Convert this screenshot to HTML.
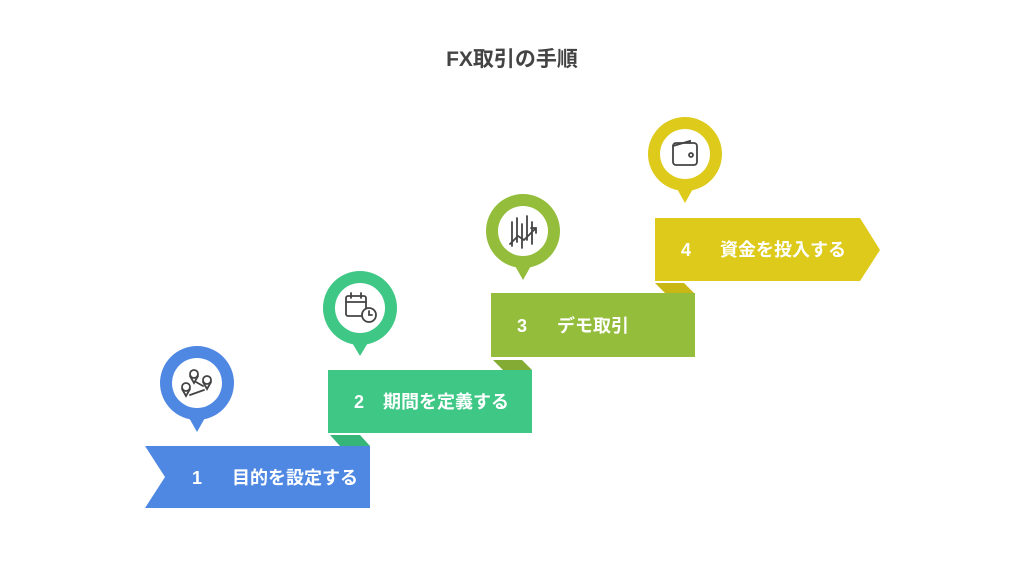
<!DOCTYPE html>
<html><head><meta charset="utf-8"><style>
body{margin:0;background:#fff;width:1024px;height:576px;overflow:hidden;font-family:"Liberation Sans","Noto Sans CJK JP",sans-serif}
</style></head><body>
<svg width="1024" height="576" viewBox="0 0 1024 576" xmlns="http://www.w3.org/2000/svg" font-family="Liberation Sans, Noto Sans CJK JP, sans-serif">
<text x="512" y="66" text-anchor="middle" font-size="21" font-weight="bold" fill="#444">FX取引の手順</text>
<!-- tabs -->
<polygon points="330,435 360,435 370,446 340,446" fill="#35b578"/>
<polygon points="493,360 522,360 532,370 503,370" fill="#84ab33"/>
<polygon points="655,283 684,283 694,293 665,293" fill="#c9b716"/>
<!-- boxes -->
<polygon points="145,446 370,446 370,508 145,508 165,477" fill="#4f88e3"/>
<rect x="328" y="370" width="204" height="63" fill="#3ec785"/>
<rect x="491" y="293" width="204" height="64" fill="#93bd3a"/>
<polygon points="655,218 860,218 880,250 860,281 655,281" fill="#ddca1a"/>
<g fill="#fff" font-weight="bold" font-size="18">
<text x="197" y="484" text-anchor="middle">1</text><text x="232" y="484">目的を設定する</text>
<text x="359" y="408" text-anchor="middle">2</text><text x="383" y="408">期間を定義する</text>
<text x="522" y="332" text-anchor="middle">3</text><text x="557" y="332">デモ取引</text>
<text x="686" y="256" text-anchor="middle">4</text><text x="720" y="256">資金を投入する</text>
</g>
<!-- pins -->
<g>
<circle cx="197" cy="383" r="37" fill="#4f88e3"/><polygon points="188,416 206,416 197,432" fill="#4f88e3"/><circle cx="197" cy="383" r="25" fill="#fff"/>
<circle cx="360" cy="308" r="37" fill="#3ec785"/><polygon points="351,341 369,341 360,356" fill="#3ec785"/><circle cx="360" cy="308" r="25" fill="#fff"/>
<circle cx="523" cy="231" r="37" fill="#93bd3a"/><polygon points="514,264 532,264 523,280" fill="#93bd3a"/><circle cx="523" cy="231" r="25" fill="#fff"/>
<circle cx="685" cy="154" r="37" fill="#ddca1a"/><polygon points="676,187 694,187 685,203" fill="#ddca1a"/><circle cx="685" cy="154" r="25" fill="#fff"/>
</g>
<!-- icons -->
<g stroke="#444" stroke-width="1.8" fill="none" stroke-linecap="round">
<circle cx="186" cy="387" r="4"/><path d="M182,389 L186,396 L190,389"/>
<circle cx="194" cy="374" r="4"/><path d="M190,376 L194,383 L198,376"/>
<circle cx="207" cy="380" r="4"/><path d="M203,382 L207,389 L211,382"/>
<path d="M190,395 L204,390 M196,382 L203,386"/>
<rect x="346" y="296" width="20" height="20" rx="2"/><path d="M346,302 H366 M351,293 V298 M361,293 V298"/>
<circle cx="369" cy="315" r="7" fill="#fff"/><path d="M369,311 V315 H372"/>
<path d="M512,222 V246 M517,218 V242 M522,224 V248 M527,216 V240 M532,222 V244"/>
<path d="M510,244 L518,236 L524,240 L536,228 M531,228 H536 V233"/>
<rect x="673" y="143" width="24" height="22" rx="3"/><path d="M673,146 L690,141 V143"/><circle cx="691" cy="155" r="2"/>
</g>
</svg>
</body></html>
